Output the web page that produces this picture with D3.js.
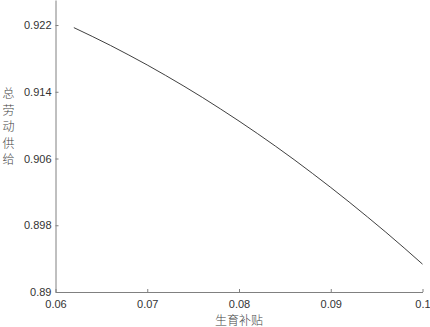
<!DOCTYPE html>
<html>
<head>
<meta charset="utf-8">
<script src="https://cdn.jsdelivr.net/npm/d3@7"></script>
<style>
  body { margin: 0; background: #fff; }
  text { font-family: "Liberation Sans", Arial, sans-serif; }
</style>
</head>
<body>
<div id="chart"></div>
<script>
// subsidy (x) and total labour supply (y)
let subsidy = [0.062, 0.064, 0.066, 0.068, 0.070, 0.072, 0.074, 0.076, 0.078, 0.080,
               0.082, 0.084, 0.086, 0.088, 0.090, 0.092, 0.094, 0.096, 0.098, 0.100]
let labour = [0.92169, 0.92064, 0.91955, 0.91840, 0.91721, 0.91596, 0.91467, 0.91333, 0.91193, 0.91049,
              0.90900, 0.90746, 0.90587, 0.90422, 0.90253, 0.90079, 0.89900, 0.89717, 0.89528, 0.89334]

let xTicks = [0.06, 0.07, 0.08, 0.09, 0.1]
let yTicks = [0.89, 0.898, 0.906, 0.914, 0.922]
let xTitle = "生育补贴"
let yTitle = ["总", "劳", "动", "供", "给"]

let width = 430, height = 327
let margin = {left: 55.5, right: 7.5, top: 0, bottom: 35}

let svg = d3.select("#chart").append("svg")
  .attr("width", width)
  .attr("height", height)

let x = d3.scaleLinear().domain([0.06, 0.1]).range([margin.left, width - margin.right])
let y = d3.scaleLinear().domain([0.89, 0.925]).range([height - margin.bottom, margin.top])

let axisColor = "#808080"
let textColor = "#333"

// bottom axis, ticks pointing inward
let xAxis = svg.append("g")
  .attr("transform", "translate(0," + (height - margin.bottom) + ")")
  .call(d3.axisBottom(x).tickValues(xTicks).tickSizeInner(-3).tickSizeOuter(0)
        .tickFormat(d => String(+d.toFixed(2))))
xAxis.select(".domain").attr("stroke", axisColor)
xAxis.selectAll(".tick line").attr("stroke", axisColor)
xAxis.selectAll(".tick text")
  .attr("y", 8).attr("dy", "0.71em")
  .attr("fill", textColor).style("font-size", "11px")

// left axis
let yAxis = svg.append("g")
  .attr("transform", "translate(" + margin.left + ",0)")
  .call(d3.axisLeft(y).tickValues(yTicks).tickSizeInner(-3).tickSizeOuter(0)
        .tickFormat(d => String(+d.toFixed(3))))
yAxis.select(".domain").attr("stroke", axisColor)
yAxis.selectAll(".tick line").attr("stroke", axisColor)
yAxis.selectAll(".tick text")
  .attr("x", -4)
  .attr("fill", textColor).style("font-size", "11px")

// the curve
let line = d3.line()
  .x((d, i) => x(subsidy[i]))
  .y(d => y(d))
  .curve(d3.curveMonotoneX)

svg.append("path")
  .datum(labour)
  .attr("d", line)
  .attr("fill", "none")
  .attr("stroke", "#2a2a2a")
  .attr("stroke-width", 0.9)

// axis titles
svg.append("text")
  .attr("x", x(0.08))
  .attr("y", 325)
  .attr("text-anchor", "middle")
  .attr("fill", "#444")
  .style("font-family", "'Noto Sans CJK SC', sans-serif")
  .style("font-weight", 300)
  .style("font-size", "12px")
  .text(xTitle)

svg.append("g").selectAll("text")
  .data(yTitle)
  .enter()
  .append("text")
  .attr("x", 8.5)
  .attr("y", (d, i) => 98 + i * 16.5)
  .attr("text-anchor", "middle")
  .attr("fill", "#444")
  .style("font-family", "'Noto Sans CJK SC', sans-serif")
  .style("font-weight", 300)
  .style("font-size", "12px")
  .text(d => d)
</script>
</body>
</html>
